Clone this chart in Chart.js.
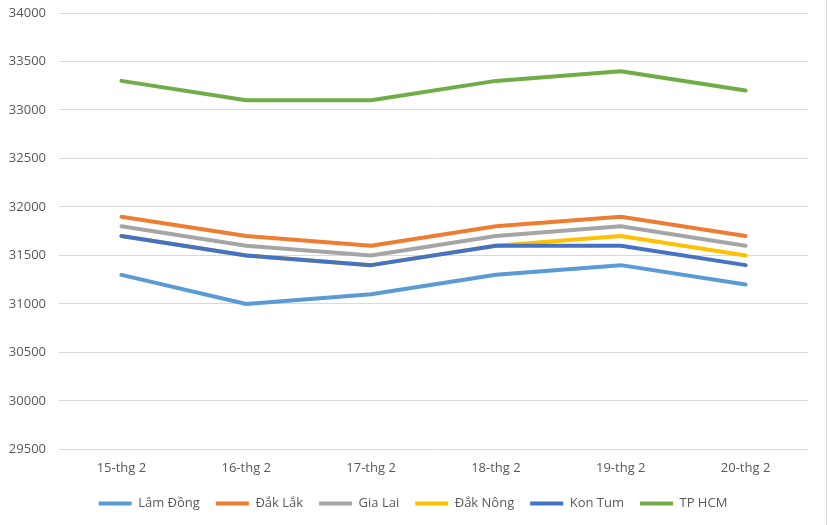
<!DOCTYPE html>
<html>
<head>
<meta charset="utf-8">
<script src="https://cdn.jsdelivr.net/npm/chart.js@4/dist/chart.umd.min.js"></script>
<style>
html,body{margin:0;padding:0;background:#fff;}
#wrap{position:relative;width:827px;height:525px;box-sizing:border-box;border-right:1px solid #d9d9d9;}
</style>
</head>
<body>
<div id="wrap"><canvas id="c"></canvas></div>
<script>
const categories = ["15-thg 2", "16-thg 2", "17-thg 2", "18-thg 2", "19-thg 2", "20-thg 2"];
const seriesNames = ["Lâm Đồng", "Đắk Lắk", "Gia Lai", "Đắk Nông", "Kon Tum", "TP HCM"];
const lamDong = [31300, 31000, 31100, 31300, 31400, 31200];
const dakLak = [31900, 31700, 31600, 31800, 31900, 31700];
const giaLai = [31800, 31600, 31500, 31700, 31800, 31600];
const dakNong = [31700, 31500, 31400, 31600, 31700, 31500];
const konTum = [31700, 31500, 31400, 31600, 31600, 31400];
const tpHcm = [33300, 33100, 33100, 33300, 33400, 33200];
const yTicks = [29500, 30000, 30500, 31000, 31500, 32000, 32500, 33000, 33500, 34000];

const values = [lamDong, dakLak, giaLai, dakNong, konTum, tpHcm];
const colors = ["#5B9BD5", "#ED7D31", "#A5A5A5", "#FFC000", "#4472C4", "#70AD47"];

const font = {family: "'Open Sans', 'Noto Sans', sans-serif", size: 13};
const textColor = "#595959";

const centerLegend = {
  id: "centerLegend",
  beforeDraw(chart) {
    const lg = chart.legend;
    if (lg) { lg.left = 0; lg.right = chart.width; lg.width = chart.width; }
  }
};

new Chart(document.getElementById("c"), {
  type: "line",
  plugins: [centerLegend],
  data: {
    labels: categories,
    datasets: seriesNames.map((n, i) => ({
      label: n,
      data: values[i],
      borderColor: colors[i],
      backgroundColor: colors[i],
      borderWidth: 4,
      pointRadius: 0,
      pointHoverRadius: 0,
      tension: 0,
      fill: false,
      order: seriesNames.length - 1 - i,
      borderCapStyle: "round",
      borderJoinStyle: "round"
    }))
  },
  options: {
    responsive: true,
    maintainAspectRatio: false,
    animation: false,
    layout: {padding: {top: 13, right: 18, left: 0, bottom: 5}},
    plugins: {
      tooltip: {enabled: false},
      legend: {
        position: "bottom",
        labels: {
          font: font,
          color: textColor,
          usePointStyle: true,
          pointStyle: "line",
          pointStyleWidth: 33,
          boxHeight: 4,
          padding: 16,
          sort: (a, b) => a.datasetIndex - b.datasetIndex
        }
      }
    },
    scales: {
      x: {
        offset: true,
        grid: {display: false, drawTicks: false},
        border: {display: false},
        ticks: {font: font, color: textColor, padding: 11, maxRotation: 0},
        afterFit: (s) => { s.height = s.height - 6; }
      },
      y: {
        min: 29500,
        max: 34000,
        afterBuildTicks: (s) => { s.ticks = yTicks.map(v => ({value: v})); },
        grid: {color: "#d9d9d9", lineWidth: 1, drawTicks: false},
        border: {display: false},
        ticks: {font: font, color: textColor, padding: 13, callback: (v) => String(v)},
        afterFit: (s) => { s.width = 59; s.paddingTop = 0; s.paddingBottom = 0; }
      }
    }
  }
});
</script>
</body>
</html>
